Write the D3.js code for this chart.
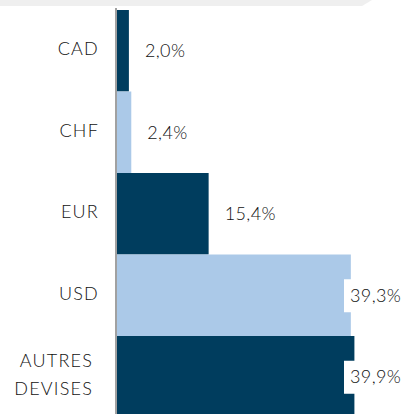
<!DOCTYPE html>
<html>
<head>
<meta charset="utf-8">
<script src="https://cdn.jsdelivr.net/npm/d3@7"></script>
<style>
  body { margin: 0; background: #fff; }
  svg { display: block; }
</style>
</head>
<body>
<svg id="chart"></svg>
<script>
const categories = ["CAD", "CHF", "EUR", "USD", "AUTRES\nDEVISES"]
const values = [2.0, 2.4, 15.4, 39.3, 39.9]
const valueLabels = ["2,0%", "2,4%", "15,4%", "39,3%", "39,9%"]
const barColors = ["#003d5e", "#abc9e8", "#003d5e", "#abc9e8", "#003d5e"]

const width = 414
const height = 414

const svg = d3.select("#chart").attr("width", width).attr("height", height)

// bit of the title banner that is cut off at the top
svg.append("polygon")
    .attr("points", "0,0 372,0 362,6 0,6")
    .attr("fill", "#efefef")

const x_scale = d3.scaleLinear().domain([0, 50]).range([117, 414.5])
const y_scale = d3.scaleBand().domain(categories).range([10, 417.5]).padding(0)

const rows = categories.map((c, i) => ({ cat: c, value: values[i], label: valueLabels[i], color: barColors[i] }))

svg.selectAll("rect.bar").data(rows).join("rect")
    .attr("class", "bar")
    .attr("x", x_scale(0))
    .attr("y", d => y_scale(d.cat))
    .attr("width", d => x_scale(d.value) - x_scale(0))
    .attr("height", y_scale.bandwidth())
    .attr("fill", d => d.color)

// axis line
svg.append("line")
    .attr("x1", x_scale(0) - 1).attr("x2", x_scale(0) - 1)
    .attr("y1", 8).attr("y2", height)
    .attr("stroke", "#8a8a8a").attr("stroke-width", 1.6)

// value labels, pushed back inside the bar when too long
const labelX = d => Math.min(x_scale(d.value) + 16, 350)

svg.selectAll("rect.lblbg").data(rows.filter(d => x_scale(d.value) + 16 > 350)).join("rect")
    .attr("class", "lblbg")
    .attr("x", d => labelX(d) - 6)
    .attr("y", d => y_scale(d.cat) + y_scale.bandwidth() / 2 - 16)
    .attr("width", 80)
    .attr("height", 33)
    .attr("fill", "#fff")

svg.selectAll("text.val").data(rows).join("text")
    .attr("class", "val")
    .attr("x", labelX)
    .attr("y", d => y_scale(d.cat) + y_scale.bandwidth() / 2)
    .attr("dy", "0.36em")
    .attr("font-family", "Lato, sans-serif")
    .attr("font-weight", 300)
    .attr("font-size", 18)
    .attr("letter-spacing", 0.4)
    .attr("fill", "#111")
    .text(d => d.label)

// category labels
const cats = svg.selectAll("text.cat").data(rows).join("text")
    .attr("class", "cat")
    .attr("text-anchor", "end")
    .attr("font-family", "Lato, sans-serif")
    .attr("font-weight", 300)
    .attr("font-size", 18)
    .attr("letter-spacing", 1.2)
    .attr("fill", "#111")

cats.each(function (d) {
    const lines = d.cat.split("\n")
    const mid = y_scale(d.cat) + y_scale.bandwidth() / 2 - 2
    d3.select(this).selectAll("tspan").data(lines).join("tspan")
        .attr("x", lines.length > 1 ? 93 : 99)
        .attr("y", (l, i) => mid + (i - (lines.length - 1) / 2) * 28)
        .attr("dy", "0.36em")
        .text(l => l)
})
</script>
</body>
</html>
